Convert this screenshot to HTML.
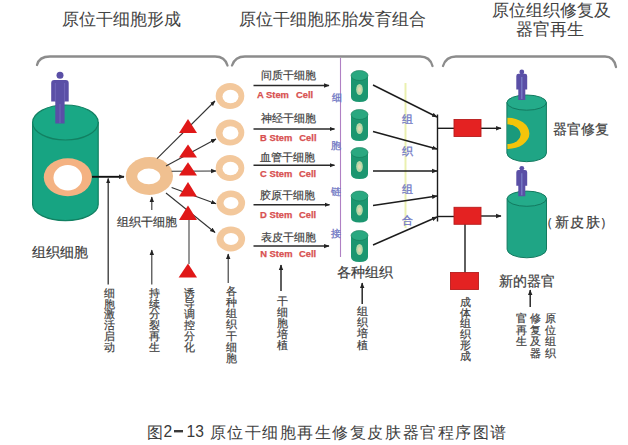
<!DOCTYPE html>
<html><head><meta charset="utf-8">
<style>
html,body{margin:0;padding:0;background:#fff;}
body{width:628px;height:445px;overflow:hidden;position:relative;font-family:"Liberation Sans",sans-serif;}
svg{position:absolute;left:0;top:0;}
.h{font-family:"Liberation Sans",sans-serif;font-size:16.5px;fill:#424242;}
.s{font-family:"Liberation Serif",serif;fill:#404040;stroke:#404040;stroke-width:0.2px;}
.red{font-family:"Liberation Sans",sans-serif;font-weight:bold;fill:#d85050;font-size:9.4px;stroke:#d85050;stroke-width:0.25px;}
.blu{font-family:"Liberation Serif",serif;fill:#7078c4;stroke:#7078c4;stroke-width:0.3px;font-size:10px;}
</style></head><body>
<svg width="628" height="445" viewBox="0 0 628 445">
<defs>
  <g id="person">
    <circle cx="0" cy="3.6" r="3.6"/>
    <path d="M-8.5 11.5 Q-8.5 8.5 -5.5 8.5 L5.5 8.5 Q8.5 8.5 8.5 11.5 L8.5 30 L4.7 30 L4.7 53.5 L-4.7 53.5 L-4.7 30 L-8.5 30 Z"/>
    <path d="M-4.7 12 L-4.7 30 M4.7 12 L4.7 30 M0 33 L0 53" stroke="#7a72c0" stroke-width="0.6" fill="none"/>
  </g>
  <marker id="ah" viewBox="0 0 10 10" refX="9" refY="5" markerWidth="5.5" markerHeight="5.5" markerUnits="userSpaceOnUse" orient="auto">
    <path d="M0 1 L10 5 L0 9 Z" fill="#222"/>
  </marker>
</defs>
<rect width="628" height="445" fill="#fff"/>
<g>

<text class="h" x="62" y="25">原位干细胞形成</text>
<text class="h" x="239" y="25">原位干细胞胚胎发育组合</text>
<text class="h" x="492" y="16">原位组织修复及</text>
<text class="h" x="516" y="35">器官再生</text>
<g fill="none" stroke="#8c8c8c" stroke-width="2.3" stroke-linecap="round">
  <path d="M37 65 Q39 56.5 50 56.5 L215 56.5 Q225 56.5 227.5 65.5"/>
  <path d="M232 65.5 Q235 56.5 245 56.5 L420 56.5 Q430 56.5 432.5 66"/>
  <path d="M443 66 Q446 56.5 456 56.5 L605 56.5 Q614 56.5 616 67"/>
</g>

<path d="M32.6 122.5 L32.6 204.6 A32.8 16 0 0 0 98.2 204.6 L98.2 122.5 Z" fill="#17a482" stroke="#128062" stroke-width="1.2"/>
<ellipse cx="65.4" cy="122.5" rx="32.8" ry="17.5" fill="#19a885" stroke="#128062" stroke-width="1.2"/>
<ellipse cx="67.8" cy="177.2" rx="24" ry="19" fill="#f4b282"/>
<ellipse cx="67.8" cy="177.8" rx="14.3" ry="12.8" fill="#fff"/>
<g fill="#5a4fa6">
  <circle cx="60" cy="75.2" r="3.5"/>
  <path d="M51.2 83 Q51.2 80 54.2 80 L65.7 80 Q68.7 80 68.7 83 L68.7 101.4 L64.6 101.4 L64.6 123.4 L55.3 123.4 L55.3 101.4 L51.2 101.4 Z"/>
  <path d="M55.3 83 L55.3 101 M64.6 83 L64.6 101 M60 104 L60 123" stroke="#7870c0" stroke-width="0.7" fill="none"/>
</g>

<g stroke="#333" stroke-width="1.1" fill="none">
  <line x1="92" y1="176.8" x2="124" y2="176.8" stroke-width="1.9" stroke="#111" marker-end="url(#ah)"/>
  <line x1="108.2" y1="284.5" x2="108.2" y2="178.5" stroke-width="1.3" marker-end="url(#ah)"/>
  <line x1="151.8" y1="210" x2="151.8" y2="197" marker-end="url(#ah)"/>
  <line x1="151.8" y1="284.5" x2="151.8" y2="250" marker-end="url(#ah)"/>
  <line x1="228.2" y1="283" x2="228.2" y2="254" marker-end="url(#ah)"/>
</g>
<ellipse cx="149.4" cy="176" rx="23.6" ry="18.9" fill="#f0c090"/>
<ellipse cx="148.8" cy="176.4" rx="11.5" ry="7.8" fill="#fff"/>
<g stroke="#333" stroke-width="1.1" fill="none">
  <line x1="157" y1="158.7" x2="215" y2="101" marker-end="url(#ah)"/>
  <line x1="166" y1="166" x2="216" y2="139" marker-end="url(#ah)"/>
  <line x1="171.6" y1="171.3" x2="216" y2="171" marker-end="url(#ah)"/>
  <line x1="171.6" y1="187.5" x2="216" y2="203.7" marker-end="url(#ah)"/>
  <line x1="166" y1="193" x2="215" y2="232.5" marker-end="url(#ah)"/>
  <line x1="189" y1="219" x2="189" y2="264" stroke="#6a6a6a" stroke-width="1.4"/>
</g>
<g fill="#e01818">
  <path d="M188 119 L197 133 L179 133 Z"/>
  <path d="M188 144.4 L197 157.5 L179 157.5 Z"/>
  <path d="M188 162.3 L197 175.5 L179 175.5 Z"/>
  <path d="M188 182 L197 196.5 L179 196.5 Z"/>
  <path d="M188 205.5 L197 220 L179 220 Z"/>
  <path d="M188 263.5 L197 277.5 L178.6 277.5 Z"/>
</g>
<g fill="#f3c89c">
  <ellipse cx="230" cy="96" rx="14.3" ry="13"/>
  <ellipse cx="230" cy="132.5" rx="14.3" ry="13"/>
  <ellipse cx="230" cy="168" rx="14.3" ry="13"/>
  <ellipse cx="230.8" cy="203" rx="14.3" ry="12.5"/>
  <ellipse cx="230.8" cy="239" rx="14.3" ry="12.5"/>
</g>
<g fill="#fff">
  <ellipse cx="230.5" cy="96.5" rx="8" ry="6.7"/>
  <ellipse cx="230.5" cy="133" rx="8" ry="6.7"/>
  <ellipse cx="230.5" cy="168.5" rx="8" ry="6.7"/>
  <ellipse cx="231" cy="203" rx="7.5" ry="6"/>
  <ellipse cx="231" cy="239" rx="7.5" ry="6"/>
</g>
<text class="s" x="117" y="226.2" font-size="12.3">组织干细胞</text>
<text class="s" x="32" y="257" font-size="14">组织细胞</text>

<text class="s" x="109.5" y="297.0" font-size="10.5" text-anchor="middle" >细</text>
<text class="s" x="109.5" y="307.7" font-size="10.5" text-anchor="middle" >胞</text>
<text class="s" x="109.5" y="318.4" font-size="10.5" text-anchor="middle" >激</text>
<text class="s" x="109.5" y="329.1" font-size="10.5" text-anchor="middle" >活</text>
<text class="s" x="109.5" y="339.8" font-size="10.5" text-anchor="middle" >启</text>
<text class="s" x="109.5" y="350.5" font-size="10.5" text-anchor="middle" >动</text>
<text class="s" x="154" y="297.0" font-size="10.5" text-anchor="middle" >持</text>
<text class="s" x="154" y="307.7" font-size="10.5" text-anchor="middle" >续</text>
<text class="s" x="154" y="318.4" font-size="10.5" text-anchor="middle" >分</text>
<text class="s" x="154" y="329.1" font-size="10.5" text-anchor="middle" >裂</text>
<text class="s" x="154" y="339.8" font-size="10.5" text-anchor="middle" >再</text>
<text class="s" x="154" y="350.5" font-size="10.5" text-anchor="middle" >生</text>
<text class="s" x="189.8" y="296.5" font-size="10.5" text-anchor="middle" >诱</text>
<text class="s" x="189.8" y="307.4" font-size="10.5" text-anchor="middle" >导</text>
<text class="s" x="189.8" y="318.3" font-size="10.5" text-anchor="middle" >调</text>
<text class="s" x="189.8" y="329.2" font-size="10.5" text-anchor="middle" >控</text>
<text class="s" x="189.8" y="340.1" font-size="10.5" text-anchor="middle" >分</text>
<text class="s" x="189.8" y="351.0" font-size="10.5" text-anchor="middle" >化</text>
<text class="s" x="231" y="294.5" font-size="10.5" text-anchor="middle" >各</text>
<text class="s" x="231" y="305.8" font-size="10.5" text-anchor="middle" >种</text>
<text class="s" x="231" y="317.1" font-size="10.5" text-anchor="middle" >组</text>
<text class="s" x="231" y="328.4" font-size="10.5" text-anchor="middle" >织</text>
<text class="s" x="231" y="339.7" font-size="10.5" text-anchor="middle" >干</text>
<text class="s" x="231" y="351.0" font-size="10.5" text-anchor="middle" >细</text>
<text class="s" x="231" y="362.3" font-size="10.5" text-anchor="middle" >胞</text>
<line x1="340.5" y1="58" x2="340.5" y2="257" stroke="#b080c4" stroke-width="1.1"/>
<line x1="405.5" y1="83" x2="405.5" y2="228" stroke="#eaf0b0" stroke-width="2"/>
<g stroke="#2a2a2a" stroke-width="1.5" fill="none">
  <line x1="253.5" y1="85.5" x2="329" y2="85.5" marker-end="url(#ah)"/>
  <line x1="253.5" y1="128.9" x2="334.5" y2="128.9" marker-end="url(#ah)"/>
  <line x1="253.5" y1="165.2" x2="334.5" y2="165.2" marker-end="url(#ah)"/>
  <line x1="253.5" y1="204.8" x2="329.5" y2="204.8" marker-end="url(#ah)"/>
  <line x1="253.5" y1="246.1" x2="329" y2="246.1" marker-end="url(#ah)"/>
  <line x1="281" y1="291" x2="281" y2="265" marker-end="url(#ah)"/>
  <line x1="362.2" y1="304" x2="362.2" y2="283" marker-end="url(#ah)"/>
</g>
<g class="s" style="font-size:11.3px">
  <text x="260.5" y="79.2">间质干细胞</text>
  <text x="260.5" y="122">神经干细胞</text>
  <text x="260" y="160.8">血管干细胞</text>
  <text x="260" y="198.7">胶原干细胞</text>
  <text x="261" y="240.5">表皮干细胞</text>
</g>
<g class="red">
  <text x="257" y="97.5">A Stem</text><text x="296" y="97.5">Cell</text>
  <text x="260" y="141">B Stem</text><text x="299.3" y="141">Cell</text>
  <text x="260" y="177">C Stem</text><text x="299" y="177">Cell</text>
  <text x="260" y="217.8">D Stem</text><text x="299" y="217.8">Cell</text>
  <text x="260.2" y="256.5">N Stem</text><text x="299" y="256.5">Cell</text>
</g>
<g class="blu">
  <text x="331.5" y="100.5">细</text>
  <text x="331" y="149">胞</text>
  <text x="331" y="195">链</text>
  <text x="331" y="237">接</text>
</g>

<text class="s" x="282.5" y="304.8" font-size="10.5" text-anchor="middle" >干</text>
<text class="s" x="282.5" y="315.8" font-size="10.5" text-anchor="middle" >细</text>
<text class="s" x="282.5" y="326.8" font-size="10.5" text-anchor="middle" >胞</text>
<text class="s" x="282.5" y="337.8" font-size="10.5" text-anchor="middle" >培</text>
<text class="s" x="282.5" y="348.8" font-size="10.5" text-anchor="middle" >植</text>
<text class="s" x="362.8" y="315.0" font-size="10.5" text-anchor="middle" >组</text>
<text class="s" x="362.8" y="326.2" font-size="10.5" text-anchor="middle" >织</text>
<text class="s" x="362.8" y="337.4" font-size="10.5" text-anchor="middle" >培</text>
<text class="s" x="362.8" y="348.6" font-size="10.5" text-anchor="middle" >植</text>
<g transform="translate(359.5,70.5)">
  <path d="M-8.5 6 L-8.5 26.5 Q-8.5 31.5 0 31.5 Q8.5 31.5 8.5 26.5 L8.5 6 Z" fill="#1c9670"/>
  <ellipse cx="0" cy="5" rx="8.5" ry="5" fill="#2aa880" stroke="#157a58" stroke-width="0.6"/>
  <ellipse cx="0" cy="19" rx="3.3" ry="5.5" fill="#b8d8a8"/>
  <ellipse cx="0" cy="19" rx="1.5" ry="2.5" fill="#e0d8b0"/>
</g>
<g transform="translate(359.5,109.5)">
  <path d="M-8.5 6 L-8.5 26.5 Q-8.5 31.5 0 31.5 Q8.5 31.5 8.5 26.5 L8.5 6 Z" fill="#1c9670"/>
  <ellipse cx="0" cy="5" rx="8.5" ry="5" fill="#2aa880" stroke="#157a58" stroke-width="0.6"/>
  <ellipse cx="0" cy="19" rx="3.3" ry="5.5" fill="#b8d8a8"/>
  <ellipse cx="0" cy="19" rx="1.5" ry="2.5" fill="#e0d8b0"/>
</g>
<g transform="translate(359.5,147.5)">
  <path d="M-8.5 6 L-8.5 26.5 Q-8.5 31.5 0 31.5 Q8.5 31.5 8.5 26.5 L8.5 6 Z" fill="#1c9670"/>
  <ellipse cx="0" cy="5" rx="8.5" ry="5" fill="#2aa880" stroke="#157a58" stroke-width="0.6"/>
  <ellipse cx="0" cy="19" rx="3.3" ry="5.5" fill="#b8d8a8"/>
  <ellipse cx="0" cy="19" rx="1.5" ry="2.5" fill="#e0d8b0"/>
</g>
<g transform="translate(359.5,191)">
  <path d="M-8.5 6 L-8.5 26.5 Q-8.5 31.5 0 31.5 Q8.5 31.5 8.5 26.5 L8.5 6 Z" fill="#1c9670"/>
  <ellipse cx="0" cy="5" rx="8.5" ry="5" fill="#2aa880" stroke="#157a58" stroke-width="0.6"/>
  <ellipse cx="0" cy="19" rx="3.3" ry="5.5" fill="#b8d8a8"/>
  <ellipse cx="0" cy="19" rx="1.5" ry="2.5" fill="#e0d8b0"/>
</g>
<g transform="translate(359.5,230.5)">
  <path d="M-8.5 6 L-8.5 26.5 Q-8.5 31.5 0 31.5 Q8.5 31.5 8.5 26.5 L8.5 6 Z" fill="#1c9670"/>
  <ellipse cx="0" cy="5" rx="8.5" ry="5" fill="#2aa880" stroke="#157a58" stroke-width="0.6"/>
  <ellipse cx="0" cy="19" rx="3.3" ry="5.5" fill="#b8d8a8"/>
  <ellipse cx="0" cy="19" rx="1.5" ry="2.5" fill="#e0d8b0"/>
</g>
<g stroke="#1c1c1c" stroke-width="1.4" fill="none">
  <line x1="373" y1="85" x2="437" y2="117" marker-end="url(#ah)"/>
  <line x1="373" y1="131.5" x2="437" y2="149" marker-end="url(#ah)"/>
  <line x1="373" y1="171" x2="437" y2="171" marker-end="url(#ah)"/>
  <line x1="373" y1="205.5" x2="437" y2="196" marker-end="url(#ah)"/>
  <line x1="373" y1="245" x2="437" y2="217" marker-end="url(#ah)"/>
  <line x1="437.5" y1="114.5" x2="437.5" y2="221.5"/>
  <line x1="437.5" y1="128.3" x2="454" y2="128.3"/>
  <line x1="438" y1="216.5" x2="454" y2="216.5"/>
  <line x1="481" y1="128.3" x2="501" y2="128.3" marker-end="url(#ah)"/>
  <line x1="481" y1="216" x2="501" y2="216" marker-end="url(#ah)"/>
  <line x1="465" y1="224" x2="465" y2="272.5"/>
  <line x1="530.2" y1="307" x2="530.2" y2="290" marker-end="url(#ah)"/>
</g>
<g class="blu" style="font-size:11px">
  <text x="401.5" y="122.5">组</text>
  <text x="401.5" y="154.5">织</text>
  <text x="401.5" y="192.5">组</text>
  <text x="401.5" y="223.5">合</text>
</g>
<g fill="#e42222" stroke="#b81c1c" stroke-width="0.9">
  <rect x="454" y="119.5" width="27" height="17"/>
  <rect x="454" y="207.3" width="27" height="17"/>
  <rect x="450.5" y="272.5" width="28" height="17"/>
</g>
<path d="M506.9 102.6 L506.9 153.2 A19.75 8.5 0 0 0 546.4 153.2 L546.4 102.6 Z" fill="#1fa585" stroke="#137a60" stroke-width="1.0"/>
<ellipse cx="526.65" cy="102.6" rx="19.75" ry="7.6" fill="#24ab8a" stroke="#137a60" stroke-width="1.0"/>
<path d="M507.4 117.8 A22 15.6 0 0 1 507.4 149 L507.4 144 A13 9.7 0 0 0 507.4 124.6 Z" fill="#f4c40a"/>
<path d="M507.4 124.6 A13 9.7 0 0 1 507.4 144 Z" fill="#1a9a7c"/>
<g fill="#5a4fa6" id="rp">
  <circle cx="521.8" cy="72" r="2.4"/>
  <path d="M516.3 76 Q516.3 73.8 518.5 73.8 L525 73.8 Q527.2 73.8 527.2 76 L527.2 89.4 L525.3 89.4 L525.3 100 L518.3 100 L518.3 89.4 L516.3 89.4 Z"/>
  <path d="M521.8 77 L521.8 99" stroke="#7a80c8" stroke-width="1.2" fill="none"/>
</g>
<path d="M507.1 198.7 L507.1 249.3 A19.69999999999999 8.5 0 0 0 546.5 249.3 L546.5 198.7 Z" fill="#1fa585" stroke="#137a60" stroke-width="1.0"/>
<ellipse cx="526.8" cy="198.7" rx="19.69999999999999" ry="7.6" fill="#24ab8a" stroke="#137a60" stroke-width="1.0"/>
<use href="#rp" transform="translate(0,96.3)"/>
<g class="s" style="font-size:13.6px">
  <text x="552.5" y="134">器官修复</text>
  <text x="555" y="227.3" style="font-size:13.6px" letter-spacing="1.3">新皮肤</text>
  <text x="540" y="227.3" style="font-size:13.2px">（</text>
  <text x="599.5" y="227.3" style="font-size:13.2px">）</text>
</g>
<text class="s" x="336.5" y="277" font-size="14.2">各种组织</text>
<text class="s" x="499" y="286" font-size="14">新的器官</text>

<text class="s" x="465.3" y="306.0" font-size="10.5" text-anchor="middle" >成</text>
<text class="s" x="465.3" y="316.7" font-size="10.5" text-anchor="middle" >体</text>
<text class="s" x="465.3" y="327.4" font-size="10.5" text-anchor="middle" >组</text>
<text class="s" x="465.3" y="338.1" font-size="10.5" text-anchor="middle" >织</text>
<text class="s" x="465.3" y="348.8" font-size="10.5" text-anchor="middle" >形</text>
<text class="s" x="465.3" y="359.5" font-size="10.5" text-anchor="middle" >成</text>
<text class="s" x="550" y="322.0" font-size="10.5" text-anchor="middle" >原</text>
<text class="s" x="550" y="333.5" font-size="10.5" text-anchor="middle" >位</text>
<text class="s" x="550" y="345.0" font-size="10.5" text-anchor="middle" >组</text>
<text class="s" x="550" y="356.5" font-size="10.5" text-anchor="middle" >织</text>
<text class="s" x="535.2" y="322.0" font-size="10.5" text-anchor="middle" >修</text>
<text class="s" x="535.2" y="333.5" font-size="10.5" text-anchor="middle" >复</text>
<text class="s" x="535.2" y="345.0" font-size="10.5" text-anchor="middle" >及</text>
<text class="s" x="535.2" y="356.5" font-size="10.5" text-anchor="middle" >器</text>
<text class="s" x="521.6" y="322.0" font-size="10.5" text-anchor="middle" >官</text>
<text class="s" x="521.6" y="333.5" font-size="10.5" text-anchor="middle" >再</text>
<text class="s" x="521.6" y="345.0" font-size="10.5" text-anchor="middle" >生</text>
<text class="h" x="147" y="437.5" style="font-size:16px">图</text>
<text x="163.5" y="436.5" font-size="15.6" fill="#3a3a3a" font-family="Liberation Sans, sans-serif">2</text>
<rect x="174" y="430" width="9" height="2.4" fill="#3a3a3a"/>
<text x="186.5" y="436.5" font-size="15.6" fill="#3a3a3a" font-family="Liberation Sans, sans-serif">13</text>
<text class="h" x="209.5" y="437.5" style="font-size:16px" letter-spacing="1.55">原位干细胞再生修复皮肤器官程序图谱</text>

</g>
</svg>
</body></html>
